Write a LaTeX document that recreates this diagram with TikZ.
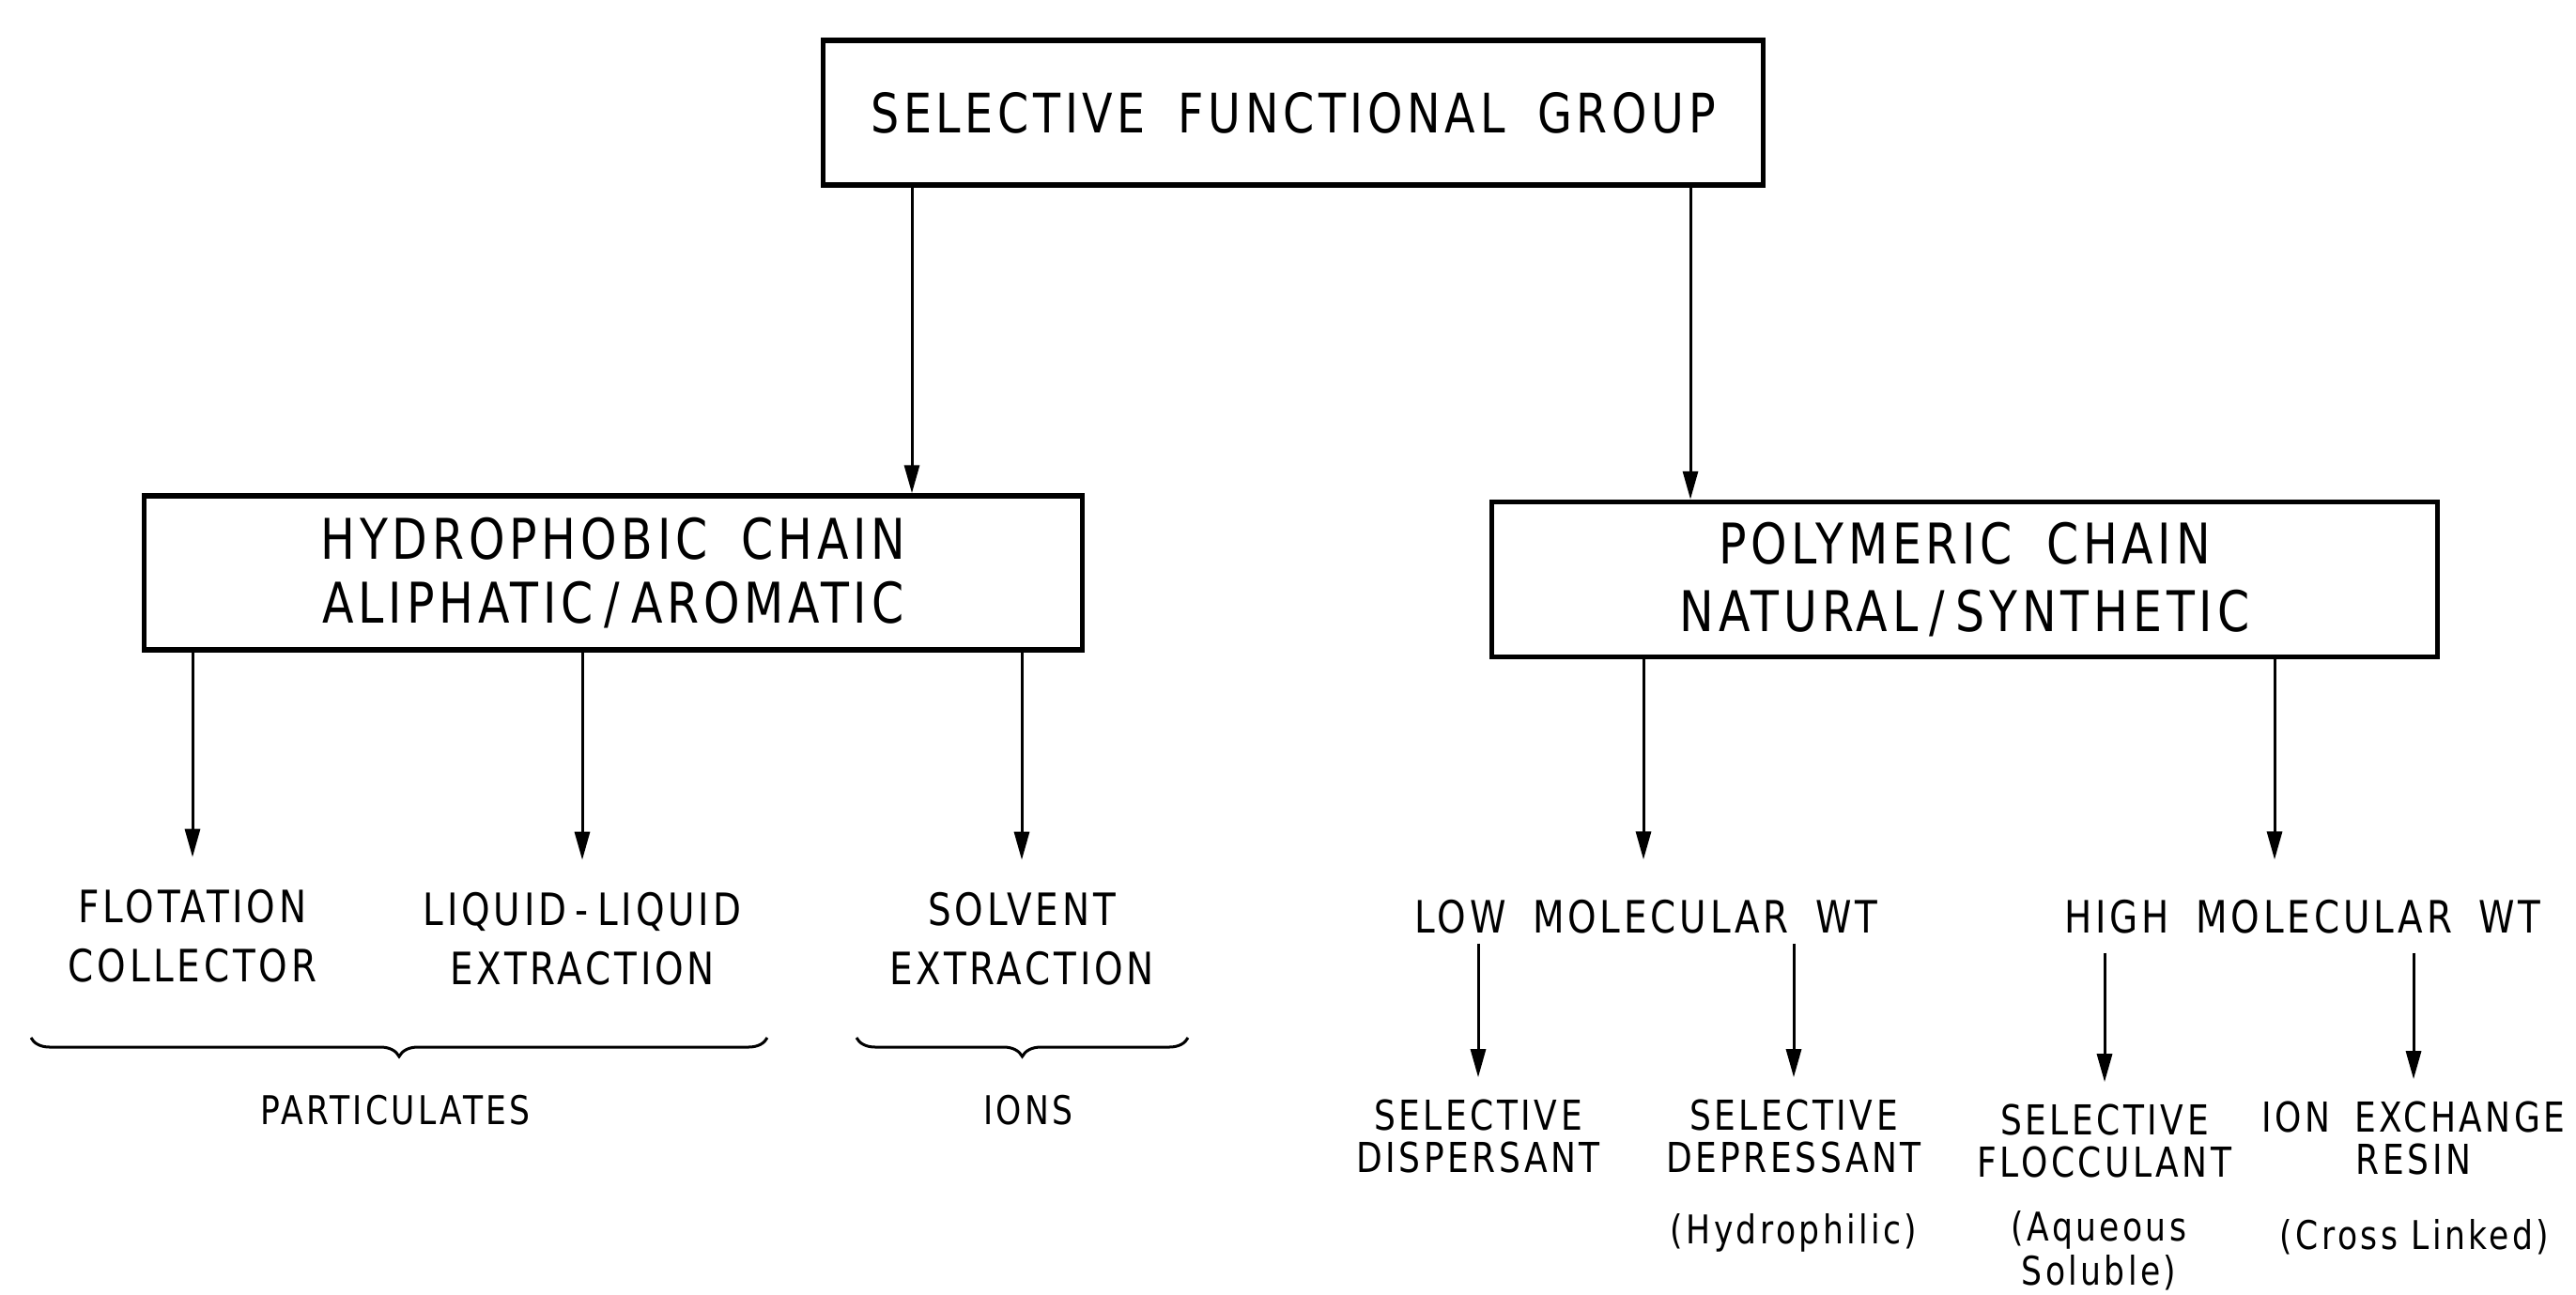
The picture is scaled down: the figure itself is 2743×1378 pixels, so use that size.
\documentclass[tikz,border=0pt]{standalone}
\usepackage{fontspec}
\setmainfont{DejaVu Sans}[FakeStretch=0.82,LetterSpace=8]
\usetikzlibrary{arrows.meta,decorations.pathreplacing}
\newcommand\wgap{\hspace{0.6em}}
\newcommand\sgap{\hspace{0.2em}}
\begin{document}
\begin{tikzpicture}[x=0.1mm,y=-0.1mm,
  box/.style={draw,line width=0.55mm,align=center,inner sep=0pt},
  arr/.style={line width=0.3mm,-{Triangle[length=3mm,width=1.6mm]}},
  lbl/.style={align=center,inner sep=0pt,font=\fontsize{13.5}{18}\selectfont},
  lbltwo/.style={align=center,inner sep=0pt,font=\fontsize{12.5}{12.8}\selectfont},
  note/.style={align=center,inner sep=0pt,font=\fontsize{12}{13.4}\selectfont},
  brc/.style={line width=0.3mm,decorate,decoration={brace,mirror,amplitude=2mm}}]
\useasboundingbox[fill=white] (0,0) rectangle (2743,1378);

% boxes
\node[box,minimum width=100.1mm,minimum height=15.4mm,font=\fontsize{16.5}{20}\selectfont] (top) at (1377,120) {SELECTIVE\wgap FUNCTIONAL\wgap GROUP};
\node[box,minimum width=99.9mm,minimum height=16.4mm,font=\fontsize{17}{19.4}\selectfont] (hyd) at (653,610) {HYDROPHOBIC\wgap CHAIN\\ALIPHATIC\sgap/\sgap AROMATIC};
\node[box,minimum width=100.7mm,minimum height=16.5mm,font=\fontsize{17}{20.5}\selectfont] (poly) at (2092,617) {POLYMERIC\wgap CHAIN\\NATURAL\sgap/\sgap SYNTHETIC};

\coordinate (xa) at (971,0);
\coordinate (xb) at (1800,0);
\draw[arr] (top.south -| xa) -- (hyd.north -| xa);
\draw[arr] (top.south -| xb) -- (poly.north -| xb);

% hydrophobic branch
\node[lbl] (flot) at (205,997) {FLOTATION\\COLLECTOR};
\node[lbl] (liq) at (620,1000) {LIQUID\sgap-\sgap LIQUID\\EXTRACTION};
\node[lbl] (solv) at (1088,1000) {SOLVENT\\EXTRACTION};
\draw[arr,shorten >=3.4mm] (hyd.south -| flot) -- (flot.north);
\draw[arr,shorten >=3.4mm] (hyd.south -| liq) -- (liq.north);
\draw[arr,shorten >=3.4mm] (hyd.south -| solv) -- (solv.north);

\coordinate (b1s) at (33,1105);
\coordinate (b1e) at (817,1105);
\coordinate (b2s) at (912,1105);
\coordinate (b2e) at (1265,1105);
\draw[brc] (b1s) -- (b1e);
\draw[brc] (b2s) -- (b2e);
\node[lbl,font=\fontsize{12}{14}\selectfont] (part) at (421,1182) {PARTICULATES};
\node[lbl,font=\fontsize{12}{14}\selectfont] (ions) at (1095,1182) {IONS};

% polymeric branch
\node[lbl] (low) at (1753,976) {LOW\wgap MOLECULAR\wgap WT};
\node[lbl] (high) at (2452,976) {HIGH\wgap MOLECULAR\wgap WT};
\coordinate (xl) at (1750,0);
\coordinate (xh) at (2422,0);
\draw[arr,shorten >=4.2mm] (poly.south -| xl) -- (low.north -| xl);
\draw[arr,shorten >=4.2mm] (poly.south -| xh) -- (high.north -| xh);

\node[lbltwo] (disp) at (1574,1210) {SELECTIVE\\DISPERSANT};
\node[lbltwo] (depr) at (1910,1210) {SELECTIVE\\DEPRESSANT};
\node[lbltwo] (floc) at (2241,1215) {SELECTIVE\\FLOCCULANT};
\node[lbltwo] (ion) at (2570,1212) {ION\wgap EXCHANGE\\RESIN};
\node[note] (hydr) at (1910,1313) {(Hydrophilic)};
\node[note] (aq) at (2235,1332) {(Aqueous\\Soluble)};
\node[note] (cl) at (2571,1317) {(Cross Linked)};

\draw[arr,shorten <=1mm,shorten >=2.3mm] (low.south -| disp) -- (disp.north);
\draw[arr,shorten <=1mm,shorten >=2.3mm] (low.south -| depr) -- (depr.north);
\draw[arr,shorten <=2mm,shorten >=2.3mm] (high.south -| floc) -- (floc.north);
\draw[arr,shorten <=2mm,shorten >=2.3mm] (high.south -| ion) -- (ion.north);
\end{tikzpicture}
\end{document}
